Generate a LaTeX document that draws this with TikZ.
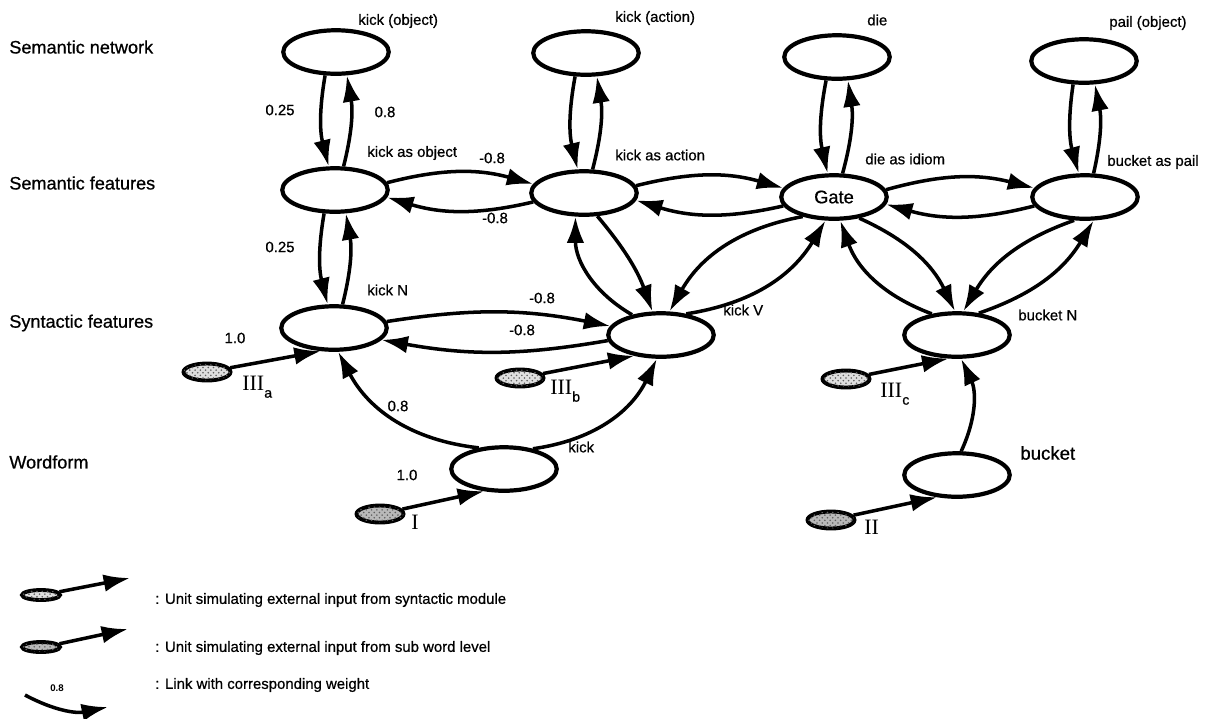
\documentclass[tikz,border=0pt]{standalone}
\usepackage{fontspec}
\setmainfont{Liberation Sans}[UprightFeatures={FakeBold=0.7}]
\newfontfamily\romfont{Liberation Serif}
\usetikzlibrary{arrows.meta}
\usetikzlibrary{shapes.geometric}
\usetikzlibrary{patterns}
\usetikzlibrary{positioning}
\tikzset{unit/.style = {ellipse, draw, line width=2.4pt, minimum width=2.11cm,
                        minimum height=0.87cm, inner sep=0pt},
         synunit/.style = {ellipse, draw, line width=2.2pt, fill=gray!25,
                           postaction={pattern=crosshatch dots, pattern color=gray!75!black},
                           minimum width=0.94cm, minimum height=0.34cm, inner sep=0pt},
         subunit/.style = {synunit, fill=gray!55},
         link/.style = {line width=2pt, -{Latex[length=15pt, width=10pt]}},
         tag/.style = {font=\fontsize{8.5}{10}\selectfont, inner sep=0pt},
         row/.style = {font=\fontsize{10.3}{12}\selectfont, inner sep=0pt, anchor=west},
         roman/.style = {font=\romfont\fontsize{12.5}{14}\selectfont, inner sep=0pt, anchor=west}}
\newcommand{\lowsub}[1]{\raisebox{-4pt}{\normalfont\fontsize{8}{8}\selectfont #1}}

\begin{document}
\begin{tikzpicture}[x=0.02cm, y=-0.02cm]
    \useasboundingbox (0,0) rectangle (1211,718);
    % levels
    \node[row] (rnet) at (9,47) {Semantic network};
    \node[row] (rsem) at (9,183) {Semantic features};
    \node[row] (rsyn) at (9,323) {Syntactic features};
    \node[row] (rwf) at (9,462) {Wordform};
    % units
    \node[unit] (kob) at (336,52) {};
    \node[unit] (kac) at (586,53) {};
    \node[unit] (die) at (837,57) {};
    \node[unit] (pob) at (1084,61) {};
    \node[unit] (kao) at (335,190) {};
    \node[unit] (kaa) at (584,193) {};
    \node[unit, font=\fontsize{10.4}{12}\selectfont] (gate) at (834,197) {Gate};
    \node[unit] (bap) at (1085,197) {};
    \node[unit] (kn) at (334,328) {};
    \node[unit] (kv) at (661,335) {};
    \node[unit] (bn) at (957,335) {};
    \node[unit] (kw) at (504,469) {};
    \node[unit] (bw) at (957,475) {};
    \node[synunit] (ina) at (207,372) {};
    \node[synunit] (inb) at (520,378) {};
    \node[synunit] (inc) at (846,379) {};
    \node[subunit] (ini) at (380,514) {};
    \node[subunit] (inii) at (831,520) {};
    % unit names
    \node[tag, anchor=west] (tkob) at (358,21) {kick (object)};
    \node[tag, anchor=west] (tkac) at (615,18) {kick (action)};
    \node[tag, anchor=west] (tdie) at (867,20) {die};
    \node[tag, anchor=west] (tpob) at (1109,23) {pail (object)};
    \node[tag, anchor=west] (tkao) at (367,153) {kick as object};
    \node[tag, anchor=west] (tkaa) at (615,155) {kick as action};
    \node[tag, anchor=west] (tgate) at (865,159) {die as idiom};
    \node[tag, anchor=west] (tbap) at (1107,162) {bucket as pail};
    \node[tag, anchor=west] (tkn) at (367,290) {kick N};
    \node[tag, anchor=west] (tkv) at (723,310) {kick V};
    \node[tag, anchor=west] (tbn) at (1018,315) {bucket N};
    \node[tag, anchor=west] (tkw) at (568,447) {kick};
    \node[tag, anchor=west, font=\fontsize{10.6}{12}\selectfont] (tbw) at (1020,453) {bucket};
    \node[roman] (tina) at (242,387) {III\lowsub{a}};
    \node[roman] (tinb) at (550,391) {III\lowsub{b}};
    \node[roman] (tinc) at (880,394) {III\lowsub{c}};
    \node[roman] (tini) at (411,522) {I};
    \node[roman] (tinii) at (864,527) {II};
    % semantic network <-> semantic features
    \draw[link] (kob.245) to[bend right=12] (kao.105);
    \draw[link] (kao.70) to[bend right=12] (kob.295);
    \draw[link] (kac.245) to[bend right=12] (kaa.105);
    \draw[link] (kaa.70) to[bend right=12] (kac.295);
    \draw[link] (die.245) to[bend right=12] (gate.105);
    \draw[link] (gate.70) to[bend right=12] (die.295);
    \draw[link] (pob.245) to[bend right=12] (bap.105);
    \draw[link] (bap.70) to[bend right=12] (pob.295);
    % semantic features row
    \draw[link] (kao.8) to[bend left=15] (kaa.170);
    \draw[link] (kaa.190) to[bend left=15] (kao.352);
    \draw[link] (kaa.8) to[bend left=15] (gate.170);
    \draw[link] (gate.190) to[bend left=15] (kaa.352);
    \draw[link] (gate.8) to[bend left=15] (bap.170);
    \draw[link] (bap.190) to[bend left=15] (gate.352);
    % semantic <-> syntactic features
    \draw[link] (kao.245) to[bend right=12] (kn.105);
    \draw[link] (kn.70) to[bend right=12] (kao.295);
    \draw[link] (kaa.300) to[bend left=10] (kv.110);
    \draw[link] (kv.145) to[bend left=30] (kaa.250);
    \draw[link] (gate.212) to[bend right=25] (kv.70);
    \draw[link] (kv.40) to[bend right=25] (gate.250);
    \draw[link] (gate.320) to[bend left=20] (bn.95);
    \draw[link] (bn.140) to[bend left=25] (gate.285);
    \draw[link] (bap.245) to[bend right=20] (bn.75);
    \draw[link] (bn.45) to[bend right=20] (bap.290);
    % syntactic features row
    \draw[link] (kn.7) to[bend left=10] (kv.170);
    \draw[link] (kv.186) to[bend left=10] (kn.346);
    % wordform
    \draw[link] (kw.140) to[bend left=28] (kn.280);
    \draw[link] (kw.35) to[bend right=28] (kv.260);
    \draw[link] (bw.80) to[bend right=25] (bn.280);
    % external input
    \draw[link] (ina) -- (kn.240);
    \draw[link] (inb) -- (kv.218);
    \draw[link] (inc) -- (bn.250);
    \draw[link] (ini) -- (kw.228);
    \draw[link] (inii) -- (bw.228);
    % weights
    \node[tag] (w1) at (280,110) {0.25};
    \node[tag] (w2) at (385,112) {0.8};
    \node[tag] (w3) at (280,247) {0.25};
    \node[tag] (w4) at (492,158) {-0.8};
    \node[tag] (w5) at (495,218) {-0.8};
    \node[tag] (w6) at (542,298) {-0.8};
    \node[tag] (w7) at (522,330) {-0.8};
    \node[tag] (w8) at (235,338) {1.0};
    \node[tag] (w9) at (398,406) {0.8};
    \node[tag] (w10) at (407,475) {1.0};
    % legend
    \node[synunit, minimum width=0.76cm, minimum height=0.2cm] (lgs) at (41,595) {};
    \coordinate (lgsT) at (130,578);
    \draw[link] (lgs.10) -- (lgsT);
    \node[tag, anchor=west] (lgsL) at (155,600) {: Unit simulating external input from syntactic module};
    \node[subunit, minimum width=0.76cm, minimum height=0.2cm] (lgw) at (41,647) {};
    \coordinate (lgwT) at (128,629);
    \draw[link] (lgw.10) -- (lgwT);
    \node[tag, anchor=west] (lgwL) at (155,648) {: Unit simulating external input from sub word level};
    \coordinate (lgkA) at (25,695);
    \coordinate (lgkB) at (108,707);
    \draw[link] (lgkA) to[bend right=20] (lgkB);
    \node[tag, font=\bfseries\fontsize{5.5}{6}\selectfont] (lgkW) at (57,688) {0.8};
    \node[tag, anchor=west] (lgkL) at (155,685) {: Link with corresponding weight};
\end{tikzpicture}
\end{document}
